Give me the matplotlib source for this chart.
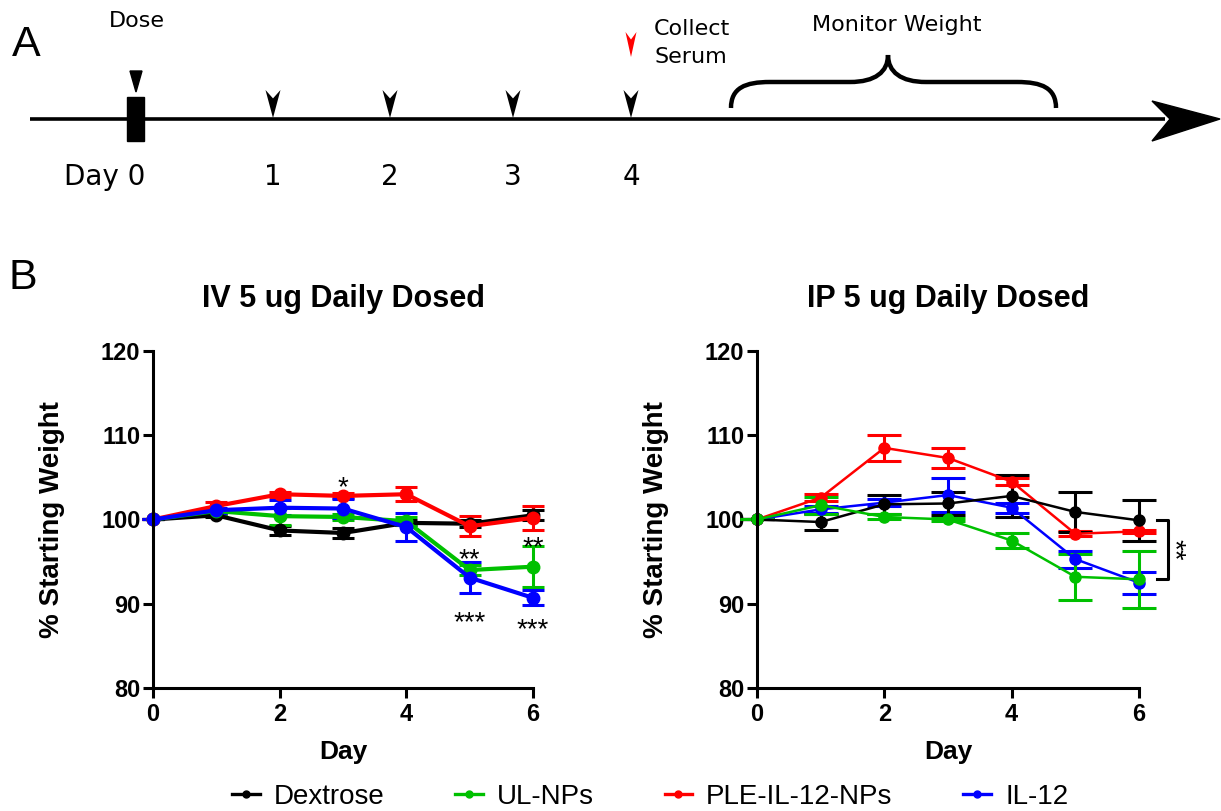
import matplotlib
matplotlib.use("Agg")
import matplotlib.pyplot as plt
from matplotlib.lines import Line2D
from matplotlib.path import Path
from matplotlib.patches import PathPatch, Polygon, Rectangle

plt.rcParams["font.family"] = ["Liberation Sans", "DejaVu Sans"]

# ---- data ----
days = [0, 1, 2, 3, 4, 5, 6]
groups = ["Dextrose", "UL-NPs", "PLE-IL-12-NPs", "IL-12"]
colors = {"Dextrose": "black", "UL-NPs": "#00c000", "PLE-IL-12-NPs": "#ff0000", "IL-12": "#0000ff"}

# IV dosing: mean % starting weight and SEM
iv_mean = {
    "Dextrose":      [100, 100.5, 98.7, 98.4, 99.6, 99.5, 100.5],
    "UL-NPs":        [100, 101.0, 100.4, 100.3, 99.8, 94.0, 94.4],
    "PLE-IL-12-NPs": [100, 101.6, 103.0, 102.8, 103.0, 99.2, 100.2],
    "IL-12":         [100, 101.1, 101.4, 101.3, 99.1, 93.1, 90.7],
}
iv_sem = {
    "Dextrose":      [0, 0.2, 0.5, 0.6, 0.3, 0.4, 0.6],
    "UL-NPs":        [0, 0.3, 1.0, 0.4, 0.5, 0.6, 2.4],
    "PLE-IL-12-NPs": [0, 0.5, 0.3, 0.3, 0.8, 1.2, 1.4],
    "IL-12":         [0, 0.3, 0.9, 1.1, 1.7, 1.8, 0.9],
}

# IP dosing
ip_mean = {
    "Dextrose":      [100, 99.7, 101.8, 101.9, 102.8, 100.9, 99.9],
    "UL-NPs":        [100, 101.7, 100.3, 100.0, 97.5, 93.2, 92.9],
    "PLE-IL-12-NPs": [100, 102.6, 108.5, 107.3, 104.5, 98.3, 98.6],
    "IL-12":         [100, 101.2, 102.0, 102.9, 101.4, 95.3, 92.5],
}
ip_sem = {
    "Dextrose":      [0, 1.0, 1.1, 1.4, 2.5, 2.4, 2.4],
    "UL-NPs":        [0, 1.0, 0.3, 0.2, 0.9, 2.7, 3.4],
    "PLE-IL-12-NPs": [0, 0.4, 1.5, 1.2, 0.4, 0.3, 0.2],
    "IL-12":         [0, 0.4, 0.4, 2.0, 0.6, 1.0, 1.3],
}

# significance marks on the IV panel: (day, value, text)
iv_stars = [(3, 104.8, "*"), (5, 96.3, "**"), (5, 88.8, "***"), (6, 97.7, "**"), (6, 88.0, "***")]

# timeline (panel A)
timeline_days = ["Day 0", "1", "2", "3", "4"]

W, H = 1221, 811
fig = plt.figure(figsize=(W / 100, H / 100), dpi=100)


def draw_panel(ax, means, sems, order, lw, ms, cap, title):
    for g in order:
        ax.errorbar(days, means[g], yerr=sems[g], color=colors[g], lw=lw,
                    marker="o", ms=ms, capsize=cap, capthick=2.2, elinewidth=2.2,
                    clip_on=False)
    ax.set_xlim(0, 6)
    ax.set_ylim(80, 120)
    ax.set_xticks([0, 2, 4, 6])
    ax.set_yticks([80, 90, 100, 110, 120])
    for s in ["top", "right"]:
        ax.spines[s].set_visible(False)
    for s in ["left", "bottom"]:
        ax.spines[s].set_linewidth(2.2)
    ax.tick_params(width=2.2, length=7, pad=2, labelsize=17)
    ax.tick_params(axis="x", pad=4)
    for t in ax.get_xticklabels() + ax.get_yticklabels():
        t.set_fontweight("bold")
    ax.set_xlabel("Day", fontsize=19, fontweight="bold", labelpad=10)
    ax.set_ylabel("% Starting Weight", fontsize=20, fontweight="bold", labelpad=26)
    ax.set_title(title, fontsize=22, fontweight="bold", pad=32)


ax1 = fig.add_axes([153 / W, 1 - 688 / H, 380 / W, 337 / H])
draw_panel(ax1, iv_mean, iv_sem, ["Dextrose", "UL-NPs", "PLE-IL-12-NPs", "IL-12"],
           3.0, 9, 8, "IV 5 ug Daily Dosed")
for d, v, s in iv_stars:
    ax1.text(d, v - 1.1, s, ha="center", va="center", fontsize=20)

ax2 = fig.add_axes([757 / W, 1 - 688 / H, 382 / W, 337 / H])
draw_panel(ax2, ip_mean, ip_sem, ["IL-12", "PLE-IL-12-NPs", "Dextrose", "UL-NPs"],
           1.8, 8, 12, "IP 5 ug Daily Dosed")
# bracket between Dextrose and UL-NPs at day 6
ax2.plot([6.28, 6.46, 6.46, 6.28], [ip_mean["Dextrose"][-1], ip_mean["Dextrose"][-1],
                                     ip_mean["UL-NPs"][-1], ip_mean["UL-NPs"][-1]],
         color="black", lw=2.2, clip_on=False)
ax2.text(6.54, (ip_mean["Dextrose"][-1] + ip_mean["UL-NPs"][-1]) / 2, "**",
         rotation=270, ha="center", va="center", fontsize=20)

handles = [Line2D([], [], color=colors[g], lw=2.4, marker="o", ms=5) for g in groups]
fig.legend(handles, groups, loc="center", bbox_to_anchor=(650 / W, 1 - 797 / H), ncol=4,
           frameon=False, fontsize=20, handlelength=1.0, handletextpad=0.5,
           columnspacing=2.55, borderpad=0)

# ---- panel A: schematic timeline (pixel coordinates) ----
top = fig.add_axes([0, 0, 1, 1], zorder=-1)
top.set_xlim(0, W)
top.set_ylim(H, 0)
top.axis("off")

tl_y = 119
tl_x = [136, 273, 390, 513, 631]
top.plot([30, 1165], [tl_y, tl_y], color="black", lw=2.6, solid_capstyle="butt")
top.add_patch(Polygon([[1220, tl_y], [1152, 101], [1170, tl_y], [1152, 141]], closed=True,
                      color="black"))
top.add_patch(Rectangle((127, 97), 17, 44, color="black"))
top.add_patch(Polygon([[130, 71], [142, 71], [136, 92]], closed=True, color="black"))


def chevron(x, y0, y1, half, color):
    notch = y0 + (y1 - y0) * 0.3
    top.add_patch(Polygon([[x - half, y0], [x, notch], [x + half, y0], [x, y1]],
                          closed=True, color=color, lw=0))


for x in tl_x[1:]:
    chevron(x, 90, 118, 7.5, "black")
chevron(tl_x[-1], 32, 57, 5.5, "#ff0000")

for x, lab in zip(tl_x, timeline_days):
    if lab == "Day 0":
        top.text(x + 9, 177, lab, ha="right", va="center", fontsize=20, family="DejaVu Sans")
    else:
        top.text(x, 177, lab, ha="center", va="center", fontsize=20, family="DejaVu Sans")

top.text(137, 21, "Dose", ha="center", va="center", fontsize=16, family="DejaVu Sans")
top.text(654, 43, "Collect\nSerum", ha="left", va="center", fontsize=16,
         family="DejaVu Sans", linespacing=1.5)
top.text(897, 25, "Monitor Weight", ha="center", va="center", fontsize=16,
         family="DejaVu Sans")

brace = Path(
    [(731, 108), (731, 88), (745, 82), (770, 82), (850, 82),
     (875, 82), (888, 72), (888, 55),
     (888, 72), (901, 82), (926, 82), (1017, 82),
     (1042, 82), (1056, 88), (1056, 108)],
    [Path.MOVETO, Path.CURVE4, Path.CURVE4, Path.CURVE4, Path.LINETO,
     Path.CURVE4, Path.CURVE4, Path.CURVE4,
     Path.CURVE4, Path.CURVE4, Path.CURVE4, Path.LINETO,
     Path.CURVE4, Path.CURVE4, Path.CURVE4])
top.add_patch(PathPatch(brace, facecolor="none", edgecolor="black", lw=3.2))

top.text(12, 45, "A", ha="left", va="center", fontsize=31)
top.text(8, 278, "B", ha="left", va="center", fontsize=31)

fig.savefig("out.png", dpi=100)
